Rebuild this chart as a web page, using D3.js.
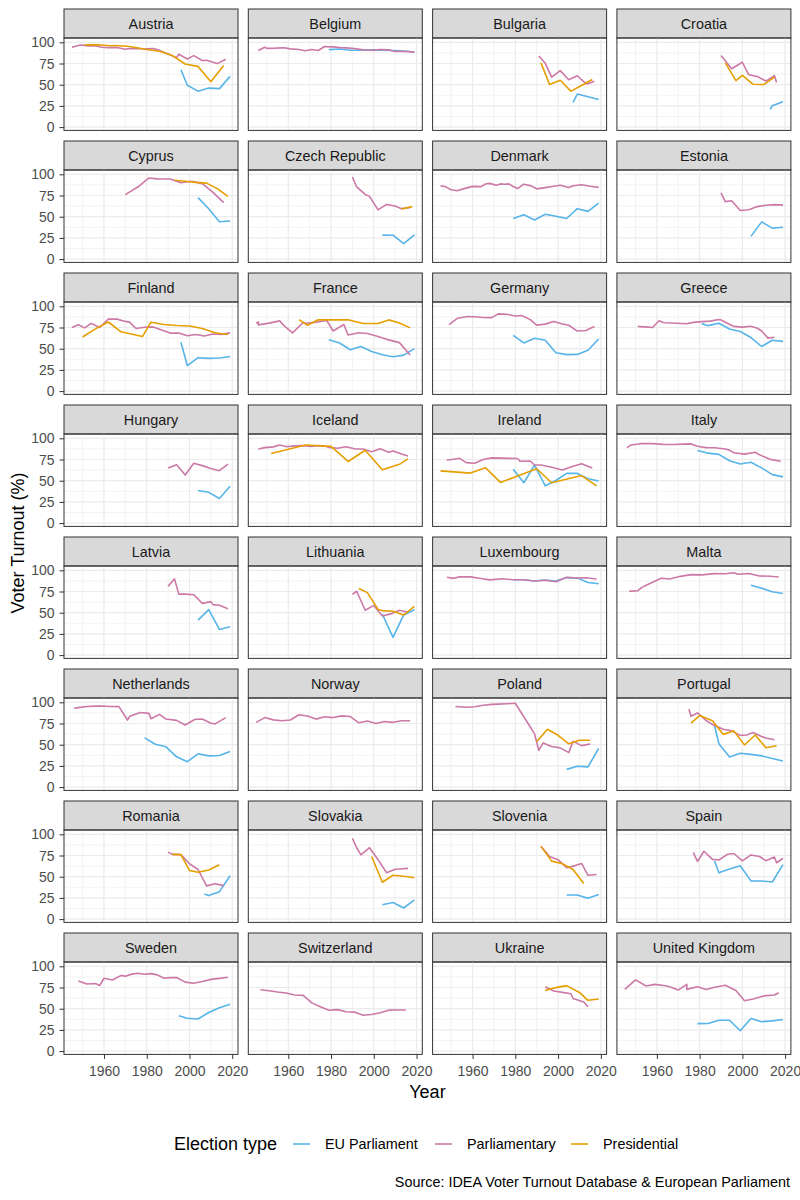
<!DOCTYPE html>
<html>
<head>
<meta charset="utf-8">
<script src="https://cdn.jsdelivr.net/npm/d3@7"></script>
<style>
  body { margin: 0; background: #fff; }
  text { font-family: "Liberation Sans", Arial, sans-serif; }
</style>
</head>
<body>
<div id="chart"></div>
<script>
// turnout data, [year, %]
var austriaEU = [[1996,67.7],[1999,49.4],[2004,42.4],[2009,46.0],[2014,45.4],[2019,59.8]];
var austriaParl = [[1945,94.3],[1949,96.8],[1953,95.8],[1956,96.0],[1959,94.2],[1962,93.8],[1966,93.8],[1970,91.8],[1971,92.4],[1975,92.9],[1979,92.2],[1983,92.6],[1986,90.5],[1990,86.1],[1994,81.9],[1995,86.0],[1999,80.4],[2002,84.3],[2006,78.5],[2008,78.8],[2013,74.9],[2017,80.0]];
var austriaPres = [[1951,97.0],[1957,97.2],[1963,96.0],[1965,96.3],[1971,95.3],[1974,94.1],[1980,91.6],[1986,89.5],[1992,84.4],[1998,74.4],[2004,71.6],[2010,53.6],[2016,72.7]];

var belgiumEU = [[1979,91.4],[1984,92.1],[1989,90.7],[1994,90.7],[1999,91.1],[2004,90.8],[2009,90.4],[2014,89.6],[2019,88.5]];
var belgiumParl = [[1946,90.3],[1949,94.2],[1950,92.9],[1954,93.1],[1958,93.6],[1961,92.3],[1965,91.6],[1968,90.0],[1971,91.5],[1974,90.3],[1977,95.1],[1978,94.9],[1981,94.6],[1985,93.6],[1987,93.4],[1991,92.7],[1995,91.1],[1999,90.6],[2003,91.6],[2007,91.1],[2010,89.2],[2014,89.4],[2019,88.4]];

var bulgariaEU = [[2007,29.2],[2009,39.0],[2014,35.8],[2019,32.6]];
var bulgariaParl = [[1991,83.9],[1994,75.2],[1997,58.9],[2001,66.6],[2005,55.8],[2009,60.6],[2013,51.3],[2014,51.1],[2017,54.1]];
var bulgariaPres = [[1992,75.8],[1996,50.2],[2001,55.3],[2006,42.4],[2011,49.1],[2016,56.1]];

var croatiaEU = [[2013,20.8],[2014,25.2],[2019,29.9]];
var croatiaParl = [[1990,84.5],[1995,68.8],[2000,76.5],[2003,61.7],[2007,59.6],[2011,54.3],[2015,60.8],[2016,52.6]];
var croatiaPres = [[1992,75.8],[1997,54.9],[2000,61.0],[2005,50.5],[2010,50.2],[2015,59.0]];

var cyprusEU = [[2004,72.5],[2009,59.4],[2014,44.0],[2019,45.0]];
var cyprusParl = [[1970,76.0],[1976,85.3],[1981,95.7],[1985,94.6],[1991,94.5],[1996,90.1],[2001,91.8],[2006,89.0],[2011,78.7],[2016,66.7]];
var cyprusPres = [[1993,93.1],[1998,91.8],[2003,90.5],[2008,89.6],[2013,83.1],[2018,73.9]];

var czechEU = [[2004,28.3],[2009,28.2],[2014,18.2],[2019,28.7]];
var czechParl = [[1990,96.8],[1992,85.1],[1996,76.3],[1998,74.0],[2002,58.0],[2006,64.5],[2010,62.6],[2013,59.5],[2017,60.8]];
var czechPres = [[2013,59.1],[2018,61.9]];

var denmarkEU = [[1979,47.8],[1984,52.4],[1989,46.2],[1994,52.9],[1999,50.5],[2004,47.9],[2009,59.5],[2014,56.3],[2019,66.1]];
var denmarkParl = [[1945,86.3],[1947,85.8],[1950,81.9],[1953,80.6],[1953,80.8],[1957,83.7],[1960,85.8],[1964,85.5],[1966,88.6],[1968,89.3],[1971,87.2],[1973,88.7],[1975,88.2],[1977,88.7],[1979,85.6],[1981,83.2],[1984,88.4],[1987,86.7],[1988,85.7],[1990,82.8],[1994,84.3],[1998,86.0],[2001,87.1],[2005,84.5],[2007,86.6],[2011,87.7],[2015,85.9],[2019,84.6]];

var estoniaEU = [[2004,26.8],[2009,43.9],[2014,36.5],[2019,37.6]];
var estoniaParl = [[1990,78.2],[1992,67.8],[1995,68.9],[1999,57.4],[2003,58.2],[2007,61.9],[2011,63.5],[2015,64.2],[2019,63.7]];

var finlandEU = [[1996,57.6],[1999,30.1],[2004,39.4],[2009,38.6],[2014,39.1],[2019,40.8]];
var finlandParl = [[1945,74.9],[1948,78.2],[1951,74.6],[1954,79.9],[1958,75.0],[1962,85.1],[1966,84.9],[1970,82.2],[1972,81.4],[1975,73.8],[1979,75.3],[1983,75.7],[1987,72.1],[1991,68.4],[1995,68.6],[1999,65.3],[2003,66.7],[2007,65.0],[2011,67.4],[2015,66.9],[2019,68.7]];
var finlandPres = [[1950,63.8],[1956,73.4],[1962,81.5],[1968,69.9],[1978,64.3],[1982,81.3],[1988,78.5],[1994,77.4],[2000,76.8],[2006,73.9],[2012,68.9],[2018,66.7]];

var franceEU = [[1979,60.7],[1984,56.7],[1989,48.8],[1994,52.7],[1999,46.8],[2004,42.8],[2009,40.6],[2014,42.4],[2019,50.1]];
var franceParl = [[1945,79.8],[1946,81.8],[1946,78.1],[1951,80.2],[1956,82.8],[1958,77.1],[1962,68.7],[1967,80.9],[1968,80.0],[1973,81.3],[1978,83.3],[1981,70.9],[1986,78.5],[1988,66.2],[1993,68.9],[1997,67.9],[2002,64.4],[2007,60.4],[2012,57.2],[2017,42.6]];
var francePres = [[1965,84.3],[1969,77.6],[1974,84.2],[1981,84.0],[1988,84.1],[1995,79.7],[2002,79.7],[2007,84.0],[2012,80.3],[2017,74.6]];

var germanyEU = [[1979,65.7],[1984,56.8],[1989,62.3],[1994,60.0],[1999,45.2],[2004,43.0],[2009,43.3],[2014,48.1],[2019,61.4]];
var germanyParl = [[1949,78.5],[1953,86.0],[1957,87.8],[1961,87.7],[1965,86.8],[1969,86.7],[1972,91.1],[1976,90.7],[1980,88.6],[1983,89.1],[1987,84.3],[1990,77.8],[1994,79.0],[1998,82.2],[2002,79.1],[2005,77.7],[2009,70.8],[2013,71.5],[2017,76.2]];

var greeceEU = [[1981,79.6],[1984,77.2],[1989,80.0],[1994,73.2],[1999,70.3],[2004,63.2],[2009,52.6],[2014,60.0],[2019,58.7]];
var greeceParl = [[1951,76.7],[1952,76.0],[1956,75.5],[1958,75.0],[1961,83.0],[1963,81.0],[1964,80.7],[1974,79.5],[1977,81.1],[1981,81.9],[1985,82.5],[1989,84.5],[1990,83.9],[1993,80.0],[1996,76.3],[2000,75.5],[2004,76.5],[2007,74.1],[2009,70.9],[2012,62.5],[2015,63.6]];

var hungaryEU = [[2004,38.5],[2009,36.3],[2014,29.0],[2019,43.4]];
var hungaryParl = [[1990,65.1],[1994,68.9],[1998,56.7],[2002,70.5],[2006,67.8],[2010,64.4],[2014,61.8],[2018,69.7]];

var icelandParl = [[1946,87.4],[1949,89.0],[1953,89.9],[1956,92.1],[1959,90.4],[1959,90.0],[1963,91.1],[1967,91.4],[1971,90.4],[1974,91.4],[1978,90.3],[1979,89.3],[1983,88.3],[1987,90.1],[1991,87.6],[1995,87.4],[1999,84.1],[2003,87.7],[2007,83.6],[2009,85.1],[2013,81.4],[2016,79.2]];
var icelandPres = [[1952,82.0],[1968,92.2],[1980,90.5],[1988,72.7],[1996,85.9],[2004,62.9],[2012,69.3],[2016,75.7]];

var irelandEU = [[1979,63.6],[1984,47.6],[1989,68.3],[1994,44.0],[1999,50.2],[2004,58.6],[2009,58.6],[2014,52.4],[2019,49.7]];
var irelandParl = [[1948,74.2],[1951,75.3],[1954,76.4],[1957,71.3],[1961,70.6],[1965,75.1],[1969,76.9],[1973,76.6],[1977,76.3],[1981,76.2],[1982,73.8],[1982,72.9],[1987,73.3],[1989,68.5],[1992,68.5],[1997,65.9],[2002,62.6],[2007,67.0],[2011,70.1],[2016,65.1]];
var irelandPres = [[1945,61.6],[1959,59.0],[1966,65.4],[1973,48.0],[1990,64.1],[1997,47.6],[2011,56.1],[2018,43.9]];

var italyEU = [[1979,85.7],[1984,82.5],[1989,81.1],[1994,73.6],[1999,69.8],[2004,71.7],[2009,65.1],[2014,57.2],[2019,54.5]];
var italyParl = [[1946,89.1],[1948,92.2],[1953,93.8],[1958,93.8],[1963,92.9],[1968,92.8],[1972,93.2],[1976,93.4],[1979,90.6],[1983,89.0],[1987,88.8],[1992,87.4],[1994,86.1],[1996,82.9],[2001,81.4],[2006,83.6],[2008,80.5],[2013,75.2],[2018,72.9]];

var latviaEU = [[2004,41.3],[2009,53.7],[2014,30.2],[2019,33.5]];
var latviaParl = [[1990,81.2],[1993,89.9],[1995,71.9],[1998,71.9],[2002,71.2],[2006,61.0],[2010,63.1],[2011,59.5],[2014,58.8],[2018,54.6]];

var lithuaniaEU = [[2004,48.4],[2009,21.0],[2014,47.4],[2019,53.5]];
var lithuaniaParl = [[1990,71.7],[1992,75.3],[1996,52.9],[2000,58.6],[2004,46.1],[2008,48.6],[2012,52.9],[2016,50.6]];
var lithuaniaPres = [[1993,78.6],[1997,73.7],[2002,53.9],[2004,52.5],[2009,51.8],[2014,47.4],[2019,57.4]];

var luxembourgEU = [[1979,88.9],[1984,88.8],[1989,87.4],[1994,88.6],[1999,87.3],[2004,91.4],[2009,90.8],[2014,85.6],[2019,84.2]];
var luxembourgParl = [[1948,91.8],[1951,90.5],[1954,92.4],[1959,92.3],[1964,90.4],[1968,88.7],[1974,90.1],[1979,88.9],[1984,88.8],[1989,87.4],[1994,88.3],[1999,86.5],[2004,91.7],[2009,90.9],[2013,91.2],[2018,89.7]];

var maltaEU = [[2004,82.4],[2009,78.8],[2014,74.8],[2019,72.7]];
var maltaParl = [[1947,75.4],[1950,75.7],[1951,75.9],[1953,79.9],[1955,82.4],[1962,90.6],[1966,89.7],[1971,92.9],[1976,94.9],[1981,94.6],[1987,96.1],[1992,96.0],[1996,97.2],[1998,95.4],[2003,96.2],[2008,93.3],[2013,93.0],[2017,92.1]];

var netherlandsEU = [[1979,58.1],[1984,50.6],[1989,47.5],[1994,35.7],[1999,30.0],[2004,39.3],[2009,36.8],[2014,37.3],[2019,41.9]];
var netherlandsParl = [[1946,93.1],[1948,93.7],[1952,95.0],[1956,95.5],[1959,95.6],[1963,95.1],[1967,94.9],[1971,79.1],[1972,83.5],[1977,88.0],[1981,87.0],[1982,80.6],[1986,85.8],[1989,80.3],[1994,78.7],[1998,73.2],[2002,79.1],[2003,80.0],[2006,80.4],[2010,75.4],[2012,74.6],[2017,81.9]];

var norwayParl = [[1945,76.4],[1949,82.0],[1953,79.3],[1957,78.3],[1961,79.1],[1965,85.4],[1969,83.8],[1973,80.2],[1977,82.9],[1981,82.0],[1985,84.0],[1989,83.2],[1993,75.8],[1997,78.0],[2001,75.0],[2005,77.4],[2009,76.4],[2013,78.2],[2017,78.2]];

var polandEU = [[2004,20.9],[2009,24.5],[2014,23.8],[2019,45.7]];
var polandParl = [[1952,95.0],[1957,94.1],[1961,94.8],[1965,96.6],[1969,97.6],[1972,97.9],[1976,98.3],[1980,98.9],[1985,78.9],[1989,62.7],[1991,43.2],[1993,52.1],[1997,47.9],[2001,46.3],[2005,40.6],[2007,53.9],[2011,48.9],[2015,50.9]];
var polandPres = [[1990,53.4],[1995,68.2],[2000,61.1],[2005,51.0],[2010,55.3],[2015,55.3]];

var portugalEU = [[1987,72.4],[1989,51.1],[1994,35.5],[1999,40.0],[2004,38.6],[2009,36.8],[2014,33.7],[2019,30.8]];
var portugalParl = [[1975,91.7],[1976,83.5],[1979,87.5],[1980,85.4],[1983,78.6],[1985,75.4],[1987,72.6],[1991,68.2],[1995,66.3],[1999,61.0],[2002,61.5],[2005,64.3],[2009,59.7],[2011,58.0],[2015,55.8]];
var portugalPres = [[1976,75.5],[1980,84.4],[1986,78.2],[1991,62.2],[1996,66.3],[2001,49.7],[2006,61.5],[2011,46.5],[2016,48.7]];

var romaniaEU = [[2007,29.5],[2009,27.7],[2014,32.4],[2019,51.2]];
var romaniaParl = [[1990,79.0],[1992,76.3],[1996,76.0],[2000,65.3],[2004,58.5],[2008,39.2],[2012,41.8],[2016,39.5]];
var romaniaPres = [[1992,76.3],[1996,76.0],[2000,57.5],[2004,55.2],[2009,58.0],[2014,64.1]];

var slovakiaEU = [[2004,17.0],[2009,19.6],[2014,13.1],[2019,22.7]];
var slovakiaParl = [[1990,95.4],[1992,84.2],[1994,75.7],[1998,84.2],[2002,70.1],[2006,54.7],[2010,58.8],[2012,59.1],[2016,59.8]];
var slovakiaPres = [[1999,73.9],[2004,43.5],[2009,51.7],[2014,50.5],[2019,48.7]];

var sloveniaEU = [[2004,28.4],[2009,28.4],[2014,24.6],[2019,28.9]];
var sloveniaParl = [[1992,85.9],[1996,73.7],[2000,70.1],[2004,60.6],[2008,63.1],[2011,65.6],[2014,51.7],[2018,52.6]];
var sloveniaPres = [[1992,85.8],[1997,68.4],[2002,65.2],[2007,58.5],[2012,42.0]];

var spainEU = [[1987,68.5],[1989,54.7],[1994,59.1],[1999,63.0],[2004,45.1],[2009,44.9],[2014,43.8],[2019,64.3]];
var spainParl = [[1977,78.8],[1979,68.0],[1982,80.0],[1986,70.5],[1989,69.7],[1993,76.4],[1996,77.4],[2000,68.7],[2004,75.7],[2008,73.8],[2011,68.9],[2015,73.2],[2016,66.5],[2019,71.8]];

var swedenEU = [[1995,41.6],[1999,38.8],[2004,37.8],[2009,45.5],[2014,51.1],[2019,55.3]];
var swedenParl = [[1948,82.7],[1952,79.1],[1956,79.8],[1958,77.4],[1960,85.9],[1964,83.9],[1968,89.3],[1970,88.3],[1973,90.8],[1976,91.8],[1979,90.7],[1982,91.4],[1985,89.9],[1988,86.0],[1991,86.7],[1994,86.8],[1998,81.4],[2002,80.1],[2006,82.0],[2010,84.6],[2014,85.8],[2018,87.2]];

var switzerlandParl = [[1947,72.4],[1951,71.2],[1955,69.7],[1959,68.5],[1963,66.1],[1967,65.7],[1971,56.9],[1975,52.4],[1979,48.1],[1983,48.9],[1987,46.5],[1991,46.0],[1995,42.2],[1999,43.2],[2003,45.2],[2007,48.3],[2011,48.5],[2015,48.4]];

var ukraineParl = [[1994,75.8],[1998,70.8],[2002,69.3],[2006,67.6],[2007,62.0],[2012,57.9],[2014,52.4]];
var ukrainePres = [[1994,71.6],[1999,74.9],[2004,77.2],[2010,69.2],[2014,59.9],[2019,61.4]];

var ukEU = [[1979,32.4],[1984,32.6],[1989,36.4],[1994,36.4],[1999,24.0],[2004,38.5],[2009,34.7],[2014,35.6],[2019,37.2]];
var ukParl = [[1945,72.8],[1950,83.9],[1951,82.6],[1955,76.8],[1959,78.7],[1964,77.1],[1966,75.8],[1970,72.0],[1974,78.8],[1974,72.8],[1979,76.0],[1983,72.7],[1987,75.3],[1992,77.7],[1997,71.5],[2001,59.4],[2005,61.4],[2010,65.1],[2015,66.1],[2017,68.8]];

var countries = ["Austria","Belgium","Bulgaria","Croatia","Cyprus","Czech Republic","Denmark","Estonia",
  "Finland","France","Germany","Greece","Hungary","Iceland","Ireland","Italy",
  "Latvia","Lithuania","Luxembourg","Malta","Netherlands","Norway","Poland","Portugal",
  "Romania","Slovakia","Slovenia","Spain","Sweden","Switzerland","Ukraine","United Kingdom"];

var electionTypes = ["EU Parliament", "Parliamentary", "Presidential"];
var yTicks = [0, 25, 50, 75, 100];
var xTicks = [1960, 1980, 2000, 2020];

// country, election type, values
var seriesTable = [
  ["Austria","EU Parliament",austriaEU],["Austria","Parliamentary",austriaParl],["Austria","Presidential",austriaPres],
  ["Belgium","EU Parliament",belgiumEU],["Belgium","Parliamentary",belgiumParl],
  ["Bulgaria","EU Parliament",bulgariaEU],["Bulgaria","Parliamentary",bulgariaParl],["Bulgaria","Presidential",bulgariaPres],
  ["Croatia","EU Parliament",croatiaEU],["Croatia","Parliamentary",croatiaParl],["Croatia","Presidential",croatiaPres],
  ["Cyprus","EU Parliament",cyprusEU],["Cyprus","Parliamentary",cyprusParl],["Cyprus","Presidential",cyprusPres],
  ["Czech Republic","EU Parliament",czechEU],["Czech Republic","Parliamentary",czechParl],["Czech Republic","Presidential",czechPres],
  ["Denmark","EU Parliament",denmarkEU],["Denmark","Parliamentary",denmarkParl],
  ["Estonia","EU Parliament",estoniaEU],["Estonia","Parliamentary",estoniaParl],
  ["Finland","EU Parliament",finlandEU],["Finland","Parliamentary",finlandParl],["Finland","Presidential",finlandPres],
  ["France","EU Parliament",franceEU],["France","Parliamentary",franceParl],["France","Presidential",francePres],
  ["Germany","EU Parliament",germanyEU],["Germany","Parliamentary",germanyParl],
  ["Greece","EU Parliament",greeceEU],["Greece","Parliamentary",greeceParl],
  ["Hungary","EU Parliament",hungaryEU],["Hungary","Parliamentary",hungaryParl],
  ["Iceland","Parliamentary",icelandParl],["Iceland","Presidential",icelandPres],
  ["Ireland","EU Parliament",irelandEU],["Ireland","Parliamentary",irelandParl],["Ireland","Presidential",irelandPres],
  ["Italy","EU Parliament",italyEU],["Italy","Parliamentary",italyParl],
  ["Latvia","EU Parliament",latviaEU],["Latvia","Parliamentary",latviaParl],
  ["Lithuania","EU Parliament",lithuaniaEU],["Lithuania","Parliamentary",lithuaniaParl],["Lithuania","Presidential",lithuaniaPres],
  ["Luxembourg","EU Parliament",luxembourgEU],["Luxembourg","Parliamentary",luxembourgParl],
  ["Malta","EU Parliament",maltaEU],["Malta","Parliamentary",maltaParl],
  ["Netherlands","EU Parliament",netherlandsEU],["Netherlands","Parliamentary",netherlandsParl],
  ["Norway","Parliamentary",norwayParl],
  ["Poland","EU Parliament",polandEU],["Poland","Parliamentary",polandParl],["Poland","Presidential",polandPres],
  ["Portugal","EU Parliament",portugalEU],["Portugal","Parliamentary",portugalParl],["Portugal","Presidential",portugalPres],
  ["Romania","EU Parliament",romaniaEU],["Romania","Parliamentary",romaniaParl],["Romania","Presidential",romaniaPres],
  ["Slovakia","EU Parliament",slovakiaEU],["Slovakia","Parliamentary",slovakiaParl],["Slovakia","Presidential",slovakiaPres],
  ["Slovenia","EU Parliament",sloveniaEU],["Slovenia","Parliamentary",sloveniaParl],["Slovenia","Presidential",sloveniaPres],
  ["Spain","EU Parliament",spainEU],["Spain","Parliamentary",spainParl],
  ["Sweden","EU Parliament",swedenEU],["Sweden","Parliamentary",swedenParl],
  ["Switzerland","Parliamentary",switzerlandParl],
  ["Ukraine","Parliamentary",ukraineParl],["Ukraine","Presidential",ukrainePres],
  ["United Kingdom","EU Parliament",ukEU],["United Kingdom","Parliamentary",ukParl]
];

var svgWidth = 800;
var svgHeight = 1200;

// facet grid geometry
var ncol = 4;
var panelLeft = 64;
var colStep = 184.3;
var panelWidth = 174;
var stripTop = 9;
var stripHeight = 29;
var plotHeight = 92.4;
var rowStep = 132;

var color = d3.scaleOrdinal()
  .domain(electionTypes)
  .range(["#56B4E9", "#CC79A7", "#E69F00"]);

var xScale = d3.scaleLinear()
  .domain([1941.3, 2022.7])
  .range([0, panelWidth]);

var yScale = d3.scaleLinear()
  .domain([-3.9, 105.1])
  .range([plotHeight, 0]);

var line = d3.line()
  .x(d => xScale(d[0]))
  .y(d => yScale(d[1]));

var svg = d3.select("#chart")
  .append("svg")
  .attr("width", svgWidth)
  .attr("height", svgHeight);

svg.append("rect")
  .attr("width", svgWidth)
  .attr("height", svgHeight)
  .attr("fill", "white");

var nrow = Math.ceil(countries.length / ncol);

countries.forEach(function(country, i) {
  var col = i % ncol;
  var row = Math.floor(i / ncol);

  var panel = svg.append("g")
    .attr("transform", `translate(${panelLeft + col * colStep}, ${stripTop + row * rowStep + stripHeight})`);

  // strip
  panel.append("rect")
    .attr("x", 0)
    .attr("y", -stripHeight)
    .attr("width", panelWidth)
    .attr("height", stripHeight)
    .attr("fill", "#D9D9D9")
    .attr("stroke", "#333333")
    .attr("stroke-width", 1);

  panel.append("text")
    .attr("x", panelWidth / 2)
    .attr("y", -stripHeight / 2)
    .attr("dy", "0.35em")
    .attr("text-anchor", "middle")
    .style("font-size", "14.4px")
    .style("fill", "#1A1A1A")
    .text(country);

  // minor grid
  panel.selectAll(".xminor")
    .data([1950, 1970, 1990, 2010])
    .enter()
    .append("line")
    .attr("x1", d => xScale(d))
    .attr("x2", d => xScale(d))
    .attr("y1", 0)
    .attr("y2", plotHeight)
    .attr("stroke", "#EBEBEB")
    .attr("stroke-width", 0.6);

  panel.selectAll(".yminor")
    .data([12.5, 37.5, 62.5, 87.5])
    .enter()
    .append("line")
    .attr("x1", 0)
    .attr("x2", panelWidth)
    .attr("y1", d => yScale(d))
    .attr("y2", d => yScale(d))
    .attr("stroke", "#EBEBEB")
    .attr("stroke-width", 0.6);

  // major grid
  panel.selectAll(".xmajor")
    .data(xTicks)
    .enter()
    .append("line")
    .attr("x1", d => xScale(d))
    .attr("x2", d => xScale(d))
    .attr("y1", 0)
    .attr("y2", plotHeight)
    .attr("stroke", "#EBEBEB")
    .attr("stroke-width", 1.2);

  panel.selectAll(".ymajor")
    .data(yTicks)
    .enter()
    .append("line")
    .attr("x1", 0)
    .attr("x2", panelWidth)
    .attr("y1", d => yScale(d))
    .attr("y2", d => yScale(d))
    .attr("stroke", "#EBEBEB")
    .attr("stroke-width", 1.2);

  // lines, drawn in legend order
  var rows = seriesTable.filter(d => d[0] === country);
  electionTypes.forEach(function(type) {
    rows.filter(d => d[1] === type).forEach(function(d) {
      var pts = d[2].slice().sort((a, b) => a[0] - b[0]);
      panel.append("path")
        .datum(pts)
        .attr("d", line)
        .attr("fill", "none")
        .attr("stroke", color(type))
        .attr("stroke-width", 1.6)
        .attr("stroke-linejoin", "round");
    });
  });

  // border
  panel.append("rect")
    .attr("width", panelWidth)
    .attr("height", plotHeight)
    .attr("fill", "none")
    .attr("stroke", "#333333")
    .attr("stroke-width", 1);

  if (col === 0) {
    var leftAxis = d3.axisLeft(yScale)
      .tickValues(yTicks)
      .tickSize(4.5)
      .tickPadding(5);
    var gy = panel.append("g").call(leftAxis);
    gy.select(".domain").remove();
    gy.selectAll(".tick line").attr("stroke", "#333333").attr("stroke-width", 1);
    gy.selectAll(".tick text")
      .style("font-size", "14px")
      .style("font-family", "'Liberation Sans', Arial, sans-serif")
      .attr("fill", "#4D4D4D");
  }

  if (row === nrow - 1) {
    var bottomAxis = d3.axisBottom(xScale)
      .tickValues(xTicks)
      .tickFormat(d3.format("d"))
      .tickSize(4.5)
      .tickPadding(7);
    var gx = panel.append("g")
      .attr("transform", `translate(0, ${plotHeight})`)
      .call(bottomAxis);
    gx.select(".domain").remove();
    gx.selectAll(".tick line").attr("stroke", "#333333").attr("stroke-width", 1);
    gx.selectAll(".tick text")
      .style("font-size", "14px")
      .style("font-family", "'Liberation Sans', Arial, sans-serif")
      .attr("fill", "#4D4D4D");
  }
});

// axis titles
svg.append("text")
  .attr("x", (panelLeft + panelLeft + 3 * colStep + panelWidth) / 2)
  .attr("y", 1098)
  .attr("text-anchor", "middle")
  .style("font-size", "18px")
  .text("Year");

svg.append("text")
  .attr("transform", "rotate(-90)")
  .attr("x", -543)
  .attr("y", 24)
  .attr("text-anchor", "middle")
  .style("font-size", "18px")
  .text("Voter Turnout (%)");

// legend
var legend = svg.append("g").attr("transform", "translate(0, 1144)");

legend.append("text")
  .attr("x", 174)
  .attr("dy", "0.35em")
  .style("font-size", "18px")
  .text("Election type");

var keyX = [291, 433, 569];
electionTypes.forEach(function(type, i) {
  legend.append("line")
    .attr("x1", keyX[i] + 2)
    .attr("x2", keyX[i] + 19)
    .attr("stroke", color(type))
    .attr("stroke-width", 1.6);
  legend.append("text")
    .attr("x", keyX[i] + 34)
    .attr("dy", "0.35em")
    .style("font-size", "14.4px")
    .text(type);
});

svg.append("text")
  .attr("x", 790)
  .attr("y", 1187)
  .attr("text-anchor", "end")
  .style("font-size", "14.4px")
  .text("Source: IDEA Voter Turnout Database & European Parliament");
</script>
</body>
</html>
